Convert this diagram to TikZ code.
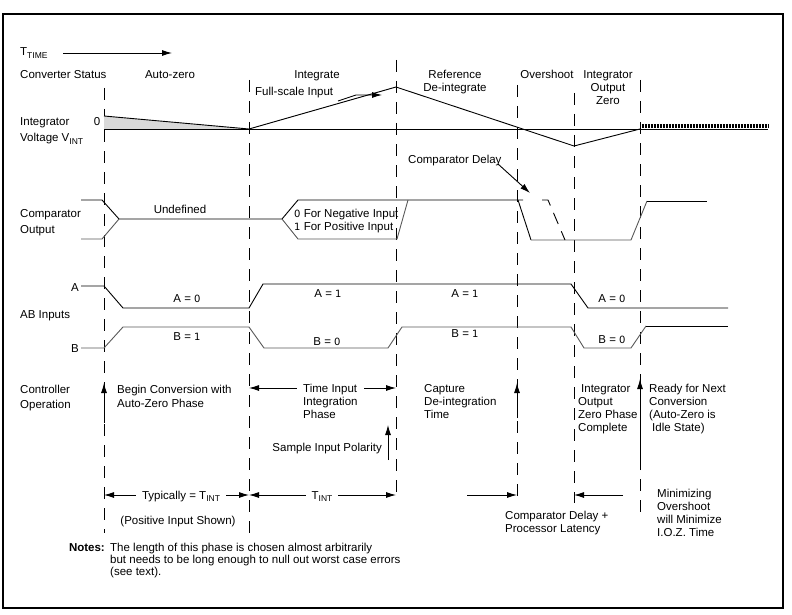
\documentclass[tikz,border=0pt]{standalone}
\usepackage{fontspec}
\setmainfont{Liberation Sans}
\newfontfamily\dvfont{DejaVu Sans}
\usetikzlibrary{arrows, arrows.meta}
\usetikzlibrary{calc}

\tikzset{
  txt/.style={inner sep=0pt, font=\fontsize{11.5}{13}\selectfont},
  wave/.style={line width=0.9pt},
  phase/.style={line width=0.9pt, dash pattern=on 12pt off 9pt},
  arr/.style={line width=0.9pt, -{Latex[length=10pt, width=6pt]}},
  darr/.style={line width=0.9pt, {Latex[length=10pt, width=6pt]}-{Latex[length=10pt, width=6pt]}},
  gap/.style={fill=white, inner xsep=6pt, inner ysep=1pt}
}
\newcommand{\dg}[1]{{\dvfont\fontsize{10}{13}\selectfont #1}}
\newcommand{\subtxt}[1]{\raisebox{-2.5pt}{\fontsize{8.5}{10}\selectfont #1}}

\begin{document}
\begin{tikzpicture}[x=1pt, y=-1pt]
    \useasboundingbox (0,0) rectangle (792,615);
    \draw[line width=1.4pt] (3,14) rectangle (783,608);

    % phase boundaries
    \foreach \n/\x/\ya/\yb in {0/104/88/533, 1/249/80/533, 2/396/60/498, 3/517/85/503, 4/574/93/503, 5/640/80/512} {
      \coordinate (top\n) at (\x,\ya);
      \coordinate (bot\n) at (\x,\yb);
      \draw[phase] (top\n) -- (bot\n);
    }

    % time axis
    \node[txt, anchor=base west] (ttime) at (20,56) {T\subtxt{TIME}};
    \coordinate (tstart) at (63,53);
    \coordinate (tend) at (172,53);
    \draw[arr] (tstart) -- (tend);

    % converter status
    \node[txt, anchor=base west] (status) at (20,79) {Converter Status};
    \node[txt, anchor=base] (autozero) at (170,79) {Auto-zero};
    \node[txt, anchor=base] (integ) at (317,79) {Integrate};
    \node[txt, anchor=base, align=center] (deint) at (455,92) {Reference\\De-integrate};
    \node[txt, anchor=base] (oversh) at (547,79) {Overshoot};
    \node[txt, anchor=base, align=center] (iozero) at (608,105) {Integrator\\Output\\Zero};

    % integrator voltage
    \node[txt, anchor=base west, align=left] (vint) at (20,142) {Integrator\\[3pt]Voltage V\subtxt{INT}};
    \node[txt, anchor=base] (zero) at (97,126) {0};
    \coordinate (v0) at (104,129);
    \coordinate (vaz) at (104,116);
    \coordinate (v1) at (249,129);
    \coordinate (vpeak) at (396,87);
    \coordinate (vlow) at (574,146);
    \coordinate (v5) at (640,129);
    \coordinate (vend) at (768,129);
    \fill[black!15] (vaz) -- (v1) -- (v0) -- cycle;
    \draw[wave] (vaz) -- (v1) -- (vpeak) -- (vlow) -- (v5);
    \draw[wave] (v0) -- (vend);
    \draw[line width=4pt, dash pattern=on 0.7pt off 0.8pt] (v5) ++(0,-2.5) -- ($(vend)+(0,-2.5)$);

    \node[txt, anchor=base west] (fullscale) at (255,96) {Full-scale Input};
    \coordinate (fsstart) at (338,101);
    \coordinate (fsbend) at (356,95);
    \coordinate (fstip) at (382,95);
    \draw[arr] (fsstart) -- (fsbend) -- (fstip);

    % comparator output
    \node[txt, anchor=base west, align=left] (cmp) at (20,233) {Comparator\\[3pt]Output};
    \node[txt, anchor=base west] (cdelay) at (408,164) {Comparator Delay};
    \coordinate (cdstart) at (498,164);
    \coordinate (cdtip) at (530,193);
    \draw[arr] (cdstart) -- (cdtip);

    \draw[wave] (81,200) -- (102,200) -- (119,219) -- (282,219) -- (298,200) -- (523,200);
    \draw[wave, black!65] (81,239) -- (102,239) -- (119,219);
    \draw[wave, black!65] (282,219) -- (298,239) -- (397,239) -- (408,200);
    \draw[wave] (518,200) -- (531,240);
    \draw[wave, black!65] (531,240) -- (631,240) -- (647,201);
    \draw[wave] (647,201) -- (707,201);
    \draw[wave, dash pattern=on 12pt off 8pt] (542,200) -- (548,200) -- (565,240);
    \node[txt, anchor=base] (undef) at (180,213) {Undefined};
    \node[txt, anchor=base west, align=left] (polar) at (294,230) {\dg{0} For Negative Input\\\dg{1} For Positive Input};

    % AB inputs
    \node[txt, anchor=base] (ina) at (75,291) {A};
    \node[txt, anchor=base] (inb) at (75,352) {B};
    \node[txt, anchor=base west] (abin) at (20,318) {AB Inputs};
    \draw[wave] (81,286) -- (104,286) -- (123,308) -- (249,308) -- (263,284) -- (571,284) -- (588,308) -- (728,308);
    \draw[wave, black!65] (81,348) -- (104,348) -- (123,327) -- (249,327) -- (264,348) -- (388,348) -- (402,327) -- (571,327) -- (584,348) -- (631,348) -- (646,326);
    \draw[wave] (646,326) -- (728,326);
    \node[txt, anchor=base] (a0) at (187,302) {A = \dg{0}};
    \node[txt, anchor=base] (b1) at (187,340) {B = \dg{1}};
    \node[txt, anchor=base] (a1) at (328,297) {A = \dg{1}};
    \node[txt, anchor=base] (b0) at (327,345) {B = \dg{0}};
    \node[txt, anchor=base] (a1b) at (465,297) {A = \dg{1}};
    \node[txt, anchor=base] (b1b) at (465,337) {B = \dg{1}};
    \node[txt, anchor=base] (a0b) at (612,302) {A = \dg{0}};
    \node[txt, anchor=base] (b0b) at (612,343) {B = \dg{0}};

    % controller operation
    \node[txt, anchor=base west, align=left] (ctrl) at (20,408) {Controller\\[2pt]Operation};
    \foreach \n/\x/\ya/\yb in {0/104/423/383, 1/388/460/425, 2/517/418/383, 3/640/470/379} {
      \coordinate (evA\n) at (\x,\ya);
      \coordinate (evB\n) at (\x,\yb);
      \draw[arr] (evA\n) -- (evB\n);
    }
    \node[txt, anchor=base west, align=left] (begin) at (117,407) {Begin Conversion with\\[1pt]Auto-Zero Phase};
    \coordinate (tiL) at (249,388);
    \coordinate (tiR) at (396,388);
    \draw[darr] (tiL) -- (tiR);
    \node[txt, gap, anchor=base west, align=left] (tinput) at (297,418) {Time Input\\Integration\\Phase};
    \node[txt, anchor=base east] (sample) at (382,451) {Sample Input Polarity};
    \node[txt, anchor=base west, align=left] (capture) at (424,418) {Capture\\De-integration\\Time};
    \node[txt, anchor=base west, align=left] (iozdone) at (578,431) {\hspace{3pt}Integrator\\Output\\Zero Phase\\Complete};
    \node[txt, anchor=base west, align=left] (ready) at (649,431) {Ready for Next\\Conversion\\(Auto-Zero is\\\hspace{3pt}Idle State)};

    % timing notes
    \coordinate (tyL) at (104,495);
    \coordinate (tyR) at (249,495);
    \coordinate (tiEnd) at (396,495);
    \draw[darr] (tyL) -- (tyR);
    \draw[darr] (tyR) -- (tiEnd);
    \node[txt, gap, anchor=base] (typ) at (181,499) {Typically = T\subtxt{INT}};
    \node[txt, gap, anchor=base] (tint) at (322,499) {T\subtxt{INT}};
    \node[txt, anchor=base] (posin) at (178,524) {(Positive Input Shown)};
    \coordinate (lat1) at (467,495);
    \coordinate (lat2) at (623,495);
    \draw[arr] (lat1) -- (lat1 -| bot3);
    \draw[arr] (lat2) -- (lat2 -| bot4);
    \node[txt, anchor=base west, align=left] (latency) at (505,532) {Comparator Delay +\\Processor Latency};
    \node[txt, anchor=base west, align=left] (minover) at (657,536) {Minimizing\\Overshoot\\will Minimize\\I.O.Z. Time};

    \node[txt, anchor=base east] (notes) at (105,551) {\bfseries Notes:};
    \node[txt, anchor=base west, align=left, font=\fontsize{11.5}{12}\selectfont] (notetext) at (110,575) {The length of this phase is chosen almost arbitrarily\\but needs to be long enough to null out worst case errors\\(see text).};
\end{tikzpicture}
\end{document}
